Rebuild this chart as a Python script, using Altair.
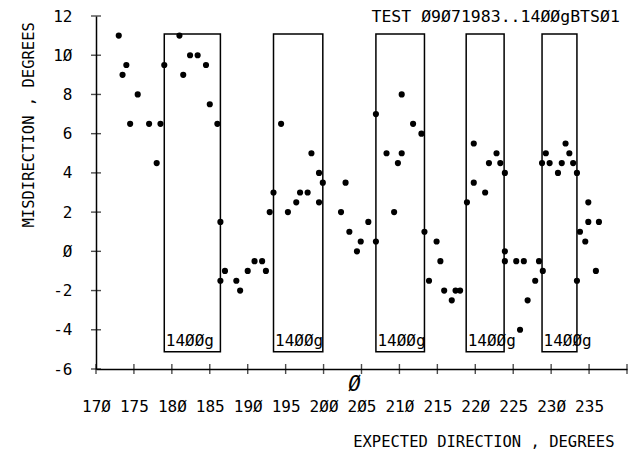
import altair as alt
import pandas as pd

FONT = "DejaVu Sans Mono"

# ---- data ----
direction = [173.0, 173.5, 174.0, 174.5, 175.5, 177.0, 178.0, 178.5, 179.0, 181.0,
             181.5, 182.4, 183.4, 184.5, 185.0, 186.0, 186.4, 186.4, 187.0, 188.5,
             189.0, 190.0, 190.9, 191.9, 192.4, 192.9, 193.4, 194.4, 195.3, 196.4,
             196.9, 197.9, 198.4, 199.4, 199.4, 199.9, 202.3, 202.9, 203.4, 204.4,
             204.9, 205.9, 206.9, 206.9, 208.3, 209.3, 209.8, 210.3, 210.3, 211.8,
             212.9, 213.3, 213.9, 214.9, 215.4, 215.9, 216.9, 217.4, 218.0, 218.9,
             219.8, 219.8, 221.3, 221.8, 222.8, 223.3, 223.9, 223.9, 223.9, 225.4,
             225.9, 226.4, 226.9, 227.9, 228.4, 228.9, 228.8, 229.3, 229.8, 230.9,
             231.4, 231.9, 232.4, 232.9, 233.4, 233.4, 233.8, 234.5, 234.9, 234.9,
             235.9, 236.3]
misdirection = [11.0, 9.0, 9.5, 6.5, 8.0, 6.5, 4.5, 6.5, 9.5, 11.0,
                9.0, 10.0, 10.0, 9.5, 7.5, 6.5, 1.5, -1.5, -1.0, -1.5,
                -2.0, -1.0, -0.5, -0.5, -1.0, 2.0, 3.0, 6.5, 2.0, 2.5,
                3.0, 3.0, 5.0, 4.0, 2.5, 3.5, 2.0, 3.5, 1.0, 0.0,
                0.5, 1.5, 0.5, 7.0, 5.0, 2.0, 4.5, 5.0, 8.0, 6.5,
                6.0, 1.0, -1.5, 0.5, -0.5, -2.0, -2.5, -2.0, -2.0, 2.5,
                3.5, 5.5, 3.0, 4.5, 5.0, 4.5, 4.0, 0.0, -0.5, -0.5,
                -4.0, -0.5, -2.5, -1.5, -0.5, -1.0, 4.5, 5.0, 4.5, 4.0,
                4.5, 5.5, 5.0, 4.5, 4.0, -1.5, 1.0, 0.5, 2.5, 1.5,
                -1.0, 1.5]

box_start = [179.0, 193.4, 206.9, 218.8, 228.8]
box_end = [186.4, 199.9, 213.3, 223.8, 233.4]
box_top = [11.08, 11.08, 11.08, 11.08, 11.08]
box_bottom = [-5.12, -5.12, -5.12, -5.12, -5.12]
box_label = ["14ØØg", "14ØØg", "14ØØg", "14ØØg", "14ØØg"]

x_labels = [170, 175, 180, 185, 190, 195, 200, 205, 210, 215, 220, 225, 230, 235]
x_ticks = [170, 175, 180, 185, 190, 195, 200, 205, 210, 215, 220, 225, 230, 235, 240]
y_ticks = [-6, -4, -2, 0, 2, 4, 6, 8, 10, 12]

title_text = ["TEST  Ø9Ø71983..14ØØgBTSØ1"]
origin_mark = ["Ø"]
x_title = "EXPECTED DIRECTION , DEGREES"
y_title = "MISDIRECTION , DEGREES"

W, H = 531, 353
LBL = "join(split(toString(datum.value),'0'),'Ø')"

xs = alt.Scale(domain=[170, 240], nice=False, zero=False)
ys = alt.Scale(domain=[-6, 12], nice=False, zero=False)

x_axis = alt.Axis(
    values=x_labels, title=x_title, labelExpr=LBL, ticks=False, tickSize=0,
    labelPadding=42.5, labelBaseline="alphabetic", labelFlush=False,
    labelOverlap=False, grid=False,
    titleX=518, titleY=77, titleAlign="right", titleBaseline="alphabetic")
y_axis = alt.Axis(
    values=y_ticks, title=y_title, labelExpr=LBL, ticks=False, tickSize=0,
    labelPadding=24, labelFlush=False, labelOverlap=False, grid=False,
    titleX=-62.7, titleY=211, titleAngle=270, titleAlign="left",
    titleBaseline="alphabetic")

pts = pd.DataFrame({"d": direction, "m": misdirection})
points = alt.Chart(pts).mark_circle(size=38, color="black", opacity=1).encode(
    x=alt.X("d:Q", scale=xs, axis=x_axis),
    y=alt.Y("m:Q", scale=ys, axis=y_axis),
)

bx = pd.DataFrame({"x0": box_start, "x1": box_end, "y0": box_bottom,
                   "y1": box_top, "lab": box_label})
boxes = alt.Chart(bx).mark_rect(fill="transparent", stroke="black", strokeWidth=1.5).encode(
    x=alt.X("x0:Q", scale=xs, axis=x_axis), x2="x1",
    y=alt.Y("y0:Q", scale=ys, axis=y_axis), y2="y1",
)
box_text = alt.Chart(bx).mark_text(
    align="left", baseline="alphabetic", dx=1.5, dy=-6, font=FONT, fontSize=16,
    color="black").encode(
    x=alt.X("x0:Q", scale=xs, axis=x_axis),
    y=alt.Y("y0:Q", scale=ys, axis=y_axis),
    text="lab:N",
)

xt = pd.DataFrame({"v": x_ticks, "b": [-6] * len(x_ticks)})
xtick = alt.Chart(xt).mark_tick(orient="vertical", size=10, thickness=1.4, color="black").encode(
    x=alt.X("v:Q", scale=xs, axis=x_axis),
    y=alt.Y("b:Q", scale=ys, axis=y_axis),
)
yt = pd.DataFrame({"v": y_ticks, "b": [170] * len(y_ticks)})
ytick = alt.Chart(yt).mark_tick(orient="horizontal", size=10, thickness=1.4, color="black").encode(
    y=alt.Y("v:Q", scale=ys, axis=y_axis),
    x=alt.X("b:Q", scale=xs, axis=x_axis),
)

org = pd.DataFrame({"t": origin_mark, "xx": [204.1], "yy": [-6.82]})
origin = alt.Chart(org).mark_text(font=FONT, fontSize=21, fontStyle="italic",
                                  baseline="middle", align="center", color="black").encode(
    x=alt.X("xx:Q", scale=xs, axis=x_axis),
    y=alt.Y("yy:Q", scale=ys, axis=y_axis),
    text="t:N",
)

ttl = pd.DataFrame({"t": title_text})
title = alt.Chart(ttl).mark_text(font=FONT, fontSize=16.5, align="left",
                                 baseline="alphabetic", color="black").encode(
    x=alt.value(275.5), y=alt.value(5.7), text="t:N",
)

chart = alt.layer(boxes, box_text, xtick, ytick, points, origin, title).properties(
    width=W, height=H,
    autosize=alt.AutoSizeParams(type="none"),
    padding={"left": 96, "top": 16, "right": 12, "bottom": 83},
    background="white",
).configure_view(stroke="transparent").configure_axis(
    labelFont=FONT, labelFontSize=16, labelColor="black",
    titleFont=FONT, titleFontSize=15.5, titleFontWeight="normal", titleColor="black",
    domainColor="black", domainWidth=1.5,
)

chart.save("out.html", embed_options={"renderer": "svg", "actions": False})
